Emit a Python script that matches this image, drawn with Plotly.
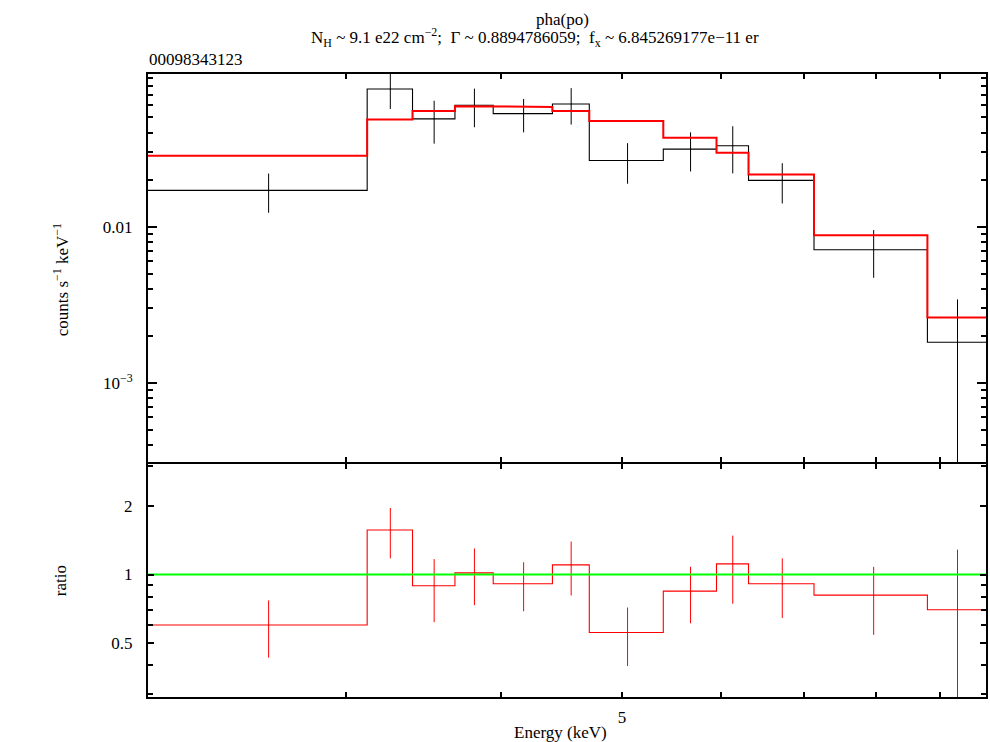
import math
import plotly.graph_objects as go

# ---- data ----
energy_center = [2.602, 3.2585, 3.5335, 3.8065, 4.169, 4.552, 5.052, 5.676, 6.1365, 6.7245, 7.9625, 9.297]
energy_halfwidth = [0.520, 0.1365, 0.1385, 0.1345, 0.228, 0.155, 0.345, 0.279, 0.1815, 0.4065, 0.8315, 0.503]

data_rate = [0.01706, 0.0760, 0.04896, 0.05985, 0.0529, 0.0610, 0.02651, 0.03134, 0.0329, 0.01976, 0.0071, 0.001816]
data_err = [0.0048, 0.0194, 0.0150, 0.0166, 0.0128, 0.0160, 0.0077, 0.0088, 0.0110, 0.0057, 0.0024, 0.0016]
model_rate = [0.0284, 0.04844, 0.0550, 0.05898, 0.05837, 0.0550, 0.0475, 0.0370, 0.0297, 0.02158, 0.0088, 0.00262]

ratio = [0.601, 1.567, 0.893, 1.017, 0.911, 1.102, 0.557, 0.846, 1.113, 0.911, 0.812, 0.701]
ratio_err = [0.169, 0.39, 0.275, 0.283, 0.221, 0.293, 0.160, 0.235, 0.368, 0.266, 0.268, 0.584]

x_tickvals = [3, 4, 5, 6, 7, 8, 9]
x_ticktext = ["", "", "5", "", "", "", ""]

title_line1 = "pha(po)"
title_line2 = ("N<sub>H</sub> ~ 9.1 e22 cm<sup>\u22122</sup>;\u00a0\u00a0\u0393 ~ 0.8894786059;"
               "\u00a0\u00a0f<sub>x</sub> ~ 6.845269177e\u221211 er")
obs_id = "00098343123"

FONT = "Liberation Serif, Times New Roman, Times, serif"
FS = 17


def steps(vals):
    xs, ys = [], []
    for c, h, v in zip(energy_center, energy_halfwidth, vals):
        xs += [c - h, c + h]
        ys += [v, v]
    return xs, ys


x_lo = energy_center[0] - energy_halfwidth[0]
x_hi = energy_center[-1] + energy_halfwidth[-1]

fig = go.Figure()

# top panel: data steps + error bars
sx, sy = steps(data_rate)
fig.add_trace(go.Scatter(x=sx, y=sy, mode="lines", line=dict(color="black", width=1.1),
                         xaxis="x", yaxis="y", hoverinfo="skip"))
fig.add_trace(go.Scatter(x=energy_center, y=data_rate, mode="markers",
                         marker=dict(size=1, color="black"),
                         error_y=dict(type="data", array=data_err, color="black", thickness=1, width=0),
                         xaxis="x", yaxis="y"))
mx, my = steps(model_rate)
fig.add_trace(go.Scatter(x=mx, y=my, mode="lines", line=dict(color="#ff0000", width=2),
                         xaxis="x", yaxis="y", hoverinfo="skip"))

# ratio panel
rx, ry = steps(ratio)
fig.add_trace(go.Scatter(x=rx, y=ry, mode="lines", line=dict(color="#ff0000", width=1.1),
                         xaxis="x2", yaxis="y2", hoverinfo="skip"))
fig.add_trace(go.Scatter(x=energy_center, y=ratio, mode="markers",
                         marker=dict(size=1, color="#ff0000"),
                         error_y=dict(type="data", array=ratio_err, color="#ff0000", thickness=1, width=0),
                         xaxis="x2", yaxis="y2"))
fig.add_trace(go.Scatter(x=[x_lo, x_hi], y=[1, 1], mode="lines", line=dict(color="#00ff00", width=2),
                         xaxis="x2", yaxis="y2", hoverinfo="skip"))

L, R, T, B = 148, 2, 74, 45
W, H = 990, 742
pw = W - L - R
ph = H - T - B
top_bottom = (697 - 462) / ph   # top panel bottom edge
bot_top = (697 - 464) / ph      # ratio panel top edge (line widths overlap)


def px_x(p):
    return (p - L) / pw


def px_y(p):
    return (697 - p) / ph


axis_common = dict(showline=True, linecolor="black", linewidth=2, mirror="allticks",
                   ticks="inside", tickcolor="black", showgrid=False, zeroline=False,
                   tickfont=dict(family=FONT, size=FS, color="black"))

xr = [math.log10(x_lo), math.log10(x_hi)]

fig.update_layout(
    width=W, height=H,
    margin=dict(l=L, r=R, t=T, b=B),
    paper_bgcolor="white", plot_bgcolor="white",
    showlegend=False,
    font=dict(family=FONT, size=FS, color="black"),
    xaxis=dict(type="log", range=xr, domain=[0, 1], anchor="y", tickmode="array",
               tickvals=x_tickvals, ticktext=x_ticktext, showticklabels=False,
               ticklen=5, tickwidth=1.5, **axis_common),
    xaxis2=dict(type="log", range=xr, domain=[0, 1], anchor="y2", matches="x", tickmode="array",
                tickvals=x_tickvals, ticktext=x_ticktext, showticklabels=True,
                ticklen=5, tickwidth=1.5, ticklabelstandoff=4, **axis_common),
    yaxis=dict(type="log", domain=[top_bottom, 1], anchor="x",
               range=[math.log10(3.11e-4), -1.023],
               tickmode="array", tickvals=[1e-3, 1e-2],
               ticktext=["10<sup>\u22123</sup>", "0.01"],
               ticklen=9, tickwidth=1.5, ticklabelstandoff=10,
               minor=dict(tickmode="array",
                          tickvals=[4e-4, 5e-4, 6e-4, 7e-4, 8e-4, 9e-4,
                                    2e-3, 3e-3, 4e-3, 5e-3, 6e-3, 7e-3, 8e-3, 9e-3,
                                    2e-2, 3e-2, 4e-2, 5e-2, 6e-2, 7e-2, 8e-2, 9e-2],
                          ticks="inside", ticklen=5, tickwidth=1.5, tickcolor="black"),
               **axis_common),
    yaxis2=dict(type="log", domain=[0, bot_top], anchor="x2",
                range=[math.log10(0.2905), math.log10(3.05)],
                tickmode="array", tickvals=[0.5, 1, 2], ticktext=["0.5", "1", "2"],
                ticklen=6, tickwidth=1.5, ticklabelstandoff=10,
                minor=dict(tickmode="array", tickvals=[0.3, 0.4, 0.6, 0.7, 0.8, 0.9, 3],
                           ticks="inside", ticklen=5, tickwidth=1.5, tickcolor="black"),
                **axis_common),
)

ann_font = dict(family=FONT, size=FS, color="black")
fig.add_annotation(text=title_line1, xref="paper", yref="paper", x=px_x(563), y=px_y(19),
                   xanchor="center", yanchor="middle", showarrow=False, font=ann_font)
fig.add_annotation(text=title_line2, xref="paper", yref="paper", x=px_x(536), y=px_y(38),
                   xanchor="center", yanchor="middle", showarrow=False, font=ann_font)
fig.add_annotation(text=obs_id, xref="paper", yref="paper", x=px_x(147), y=px_y(60),
                   xanchor="left", yanchor="middle", showarrow=False, font=ann_font)
fig.add_annotation(text="counts s<sup>\u22121</sup> keV<sup>\u22121</sup>", xref="paper", yref="paper",
                   x=px_x(61), y=px_y(280), xanchor="center", yanchor="middle", textangle=-90,
                   showarrow=False, font=ann_font)
fig.add_annotation(text="ratio", xref="paper", yref="paper",
                   x=px_x(60), y=px_y(581), xanchor="center", yanchor="middle", textangle=-90,
                   showarrow=False, font=ann_font)
fig.add_annotation(text="Energy (keV)", xref="paper", yref="paper",
                   x=px_x(561), y=px_y(732), xanchor="center", yanchor="middle",
                   showarrow=False, font=ann_font)

fig.write_html("out.html", config={"displayModeBar": False},
               post_script="document.body.style.margin='0';document.body.style.overflow='hidden';")
